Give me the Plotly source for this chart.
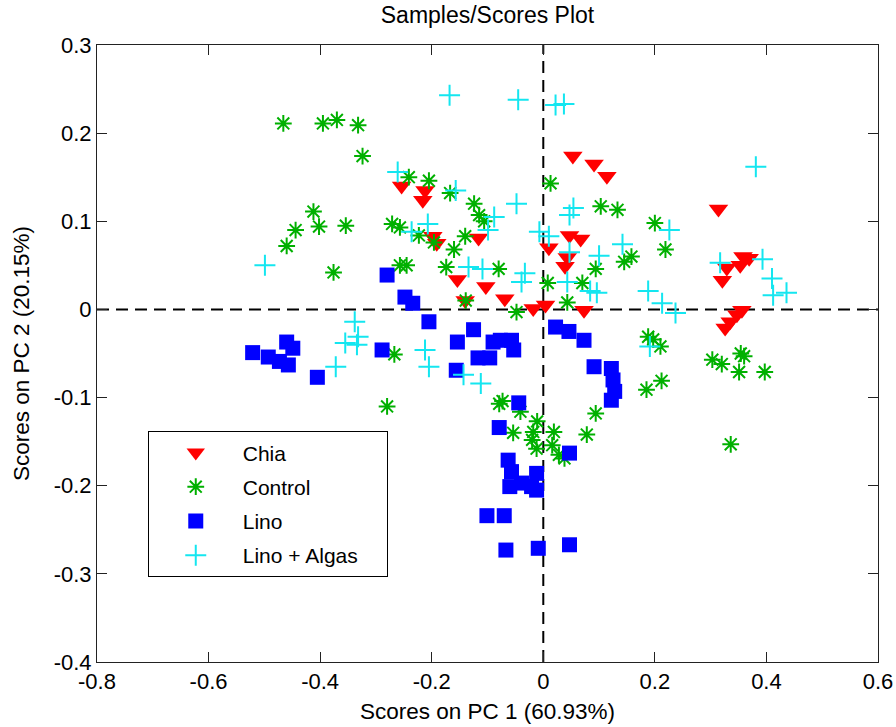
import plotly.graph_objects as go

# ---------------- data ----------------
series_names = ["Chia", "Control", "Lino", "Lino + Algas"]

chia_x = [-0.254, -0.212, -0.216, -0.198, -0.191, -0.116, -0.154, -0.103, -0.069, -0.140,
          -0.018, 0.004, 0.053, 0.091, 0.114, 0.314, 0.047, 0.067, 0.010, 0.043,
          0.039, 0.358, 0.369, 0.329, 0.321, 0.353, 0.073, 0.335, 0.347, 0.356, 0.326]
chia_y = [0.140, 0.135, 0.124, 0.083, 0.075, 0.081, 0.034, 0.026, 0.012, 0.010,
          0.001, 0.005, 0.174, 0.165, 0.151, 0.114, 0.084, 0.080, 0.070, 0.059,
          0.049, 0.060, 0.058, 0.047, 0.033, 0.050, -0.001, -0.014, -0.006, -0.001, -0.021]

control_x = [-0.466, -0.395, -0.370, -0.332, -0.324, -0.241, -0.205, -0.167, -0.124, -0.115,
             -0.106, -0.412, -0.444, -0.402, -0.354, -0.460, -0.376, -0.271, -0.257, -0.223,
             -0.196, -0.140, -0.160, -0.257, -0.245, -0.174, -0.080, -0.139, -0.048, 0.013,
             0.008, 0.103, 0.133, 0.200, 0.219, 0.145, 0.158, 0.094, 0.070, 0.043,
             -0.267, -0.280, -0.079, -0.073, -0.041, -0.054, -0.011, -0.018, -0.020, 0.019,
             0.016, 0.028, -0.012, 0.038, 0.188, 0.197, 0.210, 0.303, 0.320, 0.354,
             0.360, 0.351, 0.397, 0.185, 0.212, 0.094, 0.078, 0.336]
control_y = [0.211, 0.211, 0.215, 0.209, 0.174, 0.150, 0.146, 0.132, 0.120, 0.107,
             0.100, 0.111, 0.090, 0.094, 0.095, 0.072, 0.042, 0.097, 0.093, 0.084,
             0.076, 0.083, 0.068, 0.050, 0.050, 0.048, 0.046, 0.010, -0.003, 0.143,
             0.030, 0.117, 0.113, 0.098, 0.068, 0.054, 0.060, 0.046, 0.030, 0.008,
             -0.051, -0.110, -0.107, -0.104, -0.116, -0.140, -0.127, -0.139, -0.148, -0.139,
             -0.154, -0.165, -0.158, -0.169, -0.031, -0.034, -0.042, -0.057, -0.062, -0.050,
             -0.053, -0.071, -0.071, -0.091, -0.081, -0.118, -0.142, -0.153]

lino_x = [-0.280, -0.248, -0.234, -0.205, -0.521, -0.493, -0.473, -0.457, -0.460, -0.449,
          -0.405, -0.289, -0.154, -0.125, -0.117, -0.096, -0.090, -0.077, -0.057, -0.053,
          -0.156, -0.044, -0.079, 0.022, 0.046, 0.073, 0.091, 0.122, 0.125, 0.128,
          0.122, 0.047, -0.063, -0.057, -0.060, -0.039, -0.012, -0.012, -0.021, -0.101,
          -0.070, -0.067, -0.009, 0.047]
lino_y = [0.039, 0.014, 0.007, -0.014, -0.049, -0.054, -0.059, -0.063, -0.037, -0.044,
          -0.077, -0.046, -0.037, -0.023, -0.055, -0.055, -0.037, -0.035, -0.035, -0.046,
          -0.069, -0.106, -0.134, -0.020, -0.025, -0.035, -0.065, -0.067, -0.080, -0.093,
          -0.103, -0.163, -0.171, -0.184, -0.201, -0.197, -0.186, -0.205, -0.201, -0.234,
          -0.234, -0.273, -0.271, -0.267]

algas_x = [-0.168, -0.045, 0.022, 0.037, -0.261, -0.157, -0.048, -0.088, -0.099, -0.207,
           -0.236, -0.499, -0.134, -0.109, -0.033, -0.039, -0.007, 0.381, 0.054, 0.047,
           0.010, 0.226, 0.142, 0.100, 0.047, 0.043, 0.084, 0.096, 0.188, 0.213,
           0.237, 0.317, 0.393, 0.410, 0.412, 0.436, -0.338, -0.332, -0.355, -0.334,
           -0.372, -0.212, -0.205, -0.143, -0.112, 0.191]
algas_y = [0.243, 0.238, 0.232, 0.233, 0.156, 0.135, 0.120, 0.105, 0.090, 0.097,
           0.088, 0.050, 0.048, 0.046, 0.041, 0.031, 0.088, 0.162, 0.115, 0.107,
           0.083, 0.090, 0.074, 0.061, 0.065, 0.031, 0.021, 0.019, 0.021, 0.007,
           -0.004, 0.053, 0.057, 0.035, 0.016, 0.019, -0.014, -0.031, -0.038, -0.040,
           -0.065, -0.046, -0.065, -0.074, -0.084, -0.042]

x_ticks = [-0.8, -0.6, -0.4, -0.2, 0, 0.2, 0.4, 0.6]
x_tick_labels = ["-0.8", "-0.6", "-0.4", "-0.2", "0", "0.2", "0.4", "0.6"]
y_ticks = [-0.4, -0.3, -0.2, -0.1, 0, 0.1, 0.2, 0.3]
y_tick_labels = ["-0.4", "-0.3", "-0.2", "-0.1", "0", "0.1", "0.2", "0.3"]

# ---------------- figure ----------------
FONT = "Liberation Sans, Arial, sans-serif"
PAD = "\u00a0" * 4  # invisible right padding inside the legend box

fig = go.Figure()

fig.add_trace(go.Scatter(
    x=chia_x, y=chia_y, mode="markers", name=series_names[0] + PAD, legendgroup="a",
    marker=dict(symbol="triangle-down", size=17, color="#ff0000",
                line=dict(width=0))))
fig.add_trace(go.Scatter(
    x=control_x, y=control_y, mode="markers", name=series_names[1] + PAD, legendgroup="b",
    marker=dict(symbol="asterisk-open", size=14, color="#00b000",
                line=dict(width=2, color="#00b000"))))
fig.add_trace(go.Scatter(
    x=lino_x, y=lino_y, mode="markers", name=series_names[2] + PAD, legendgroup="c",
    marker=dict(symbol="square", size=15, color="#0000ff",
                line=dict(width=0))))
fig.add_trace(go.Scatter(
    x=algas_x, y=algas_y, mode="markers", name=series_names[3] + PAD, legendgroup="d",
    marker=dict(symbol="cross-thin-open", size=15, color="#14e6f0",
                line=dict(width=2, color="#14e6f0"))))

# dashed zero lines
fig.add_shape(type="line", xref="x", yref="paper", x0=0, x1=0, y0=0, y1=1,
              line=dict(color="black", width=2, dash="12px,7px"), layer="below")
fig.add_shape(type="line", xref="paper", yref="y", x0=0, x1=1, y0=0, y1=0,
              line=dict(color="black", width=2, dash="12px,7px"), layer="below")

axis_common = dict(showline=True, linecolor="#222222", linewidth=1, mirror="ticks",
                   ticks="inside", ticklen=10, tickcolor="#222222", tickwidth=1,
                   showgrid=False, zeroline=False,
                   tickfont=dict(family=FONT, size=22, color="black"))

fig.update_xaxes(range=[-0.8, 0.6], tickvals=x_ticks, ticktext=x_tick_labels,
                 title=dict(text="Scores on PC 1 (60.93%)", standoff=9,
                            font=dict(family=FONT, size=22.5, color="black")),
                 **axis_common)
fig.update_yaxes(range=[-0.4, 0.3], tickvals=y_ticks, ticktext=y_tick_labels,
                 title=dict(text="Scores on PC 2 (20.15%)", standoff=17,
                            font=dict(family=FONT, size=22.5, color="black")),
                 **axis_common)

fig.update_layout(
    width=896, height=727,
    margin=dict(l=97, r=18, t=45, b=65, autoexpand=False),
    paper_bgcolor="white", plot_bgcolor="white",
    title=dict(text="Samples/Scores Plot", x=0.5, xref="paper", xanchor="center",
               y=1, yref="container", yanchor="top", pad=dict(t=7),
               font=dict(family=FONT, size=23, color="black")),
    showlegend=True,
    legend=dict(x=0.065, y=0.374, xanchor="left", yanchor="top",
                bgcolor="white", bordercolor="black", borderwidth=1,
                font=dict(family=FONT, size=21, color="black"),
                itemwidth=84, tracegroupgap=4, traceorder="grouped"),
)

fig.write_html("out.html")
